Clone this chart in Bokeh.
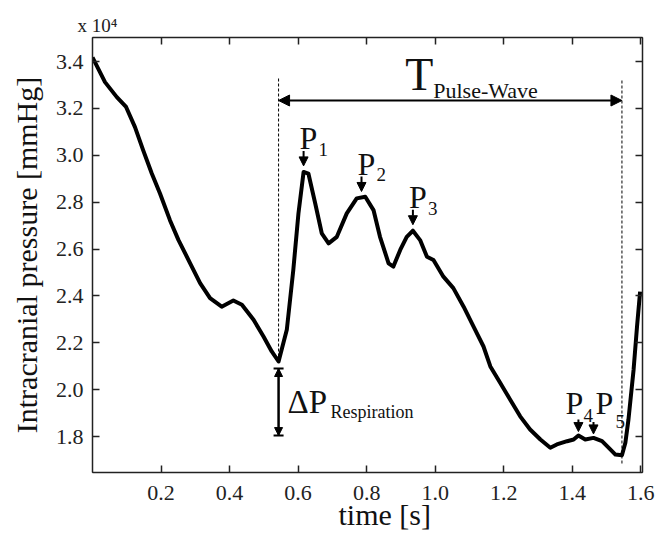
import numpy as np
from bokeh.plotting import figure
from bokeh.models import Range1d, FixedTicker, LinearAxis, Label, Arrow, NormalHead, TeeHead, Title
from bokeh.embed import file_html
from bokeh.resources import INLINE

# ---------------- data ----------------
time_s = [0.000, 0.0365, 0.071, 0.098, 0.124, 0.148, 0.173, 0.197, 0.226, 0.251,
          0.285, 0.314, 0.343, 0.377, 0.411, 0.436, 0.470, 0.499, 0.523, 0.543,
          0.567, 0.586, 0.601, 0.616, 0.630, 0.650, 0.669, 0.689, 0.713, 0.742,
          0.771, 0.796, 0.820, 0.839, 0.864, 0.878, 0.898, 0.917, 0.935, 0.956,
          0.976, 0.995, 1.024, 1.053, 1.083, 1.112, 1.141, 1.161, 1.190, 1.219,
          1.248, 1.277, 1.307, 1.336, 1.355, 1.385, 1.404, 1.418, 1.438, 1.462,
          1.487, 1.511, 1.526, 1.545, 1.555, 1.564, 1.579, 1.589, 1.598]
icp_mmhg = [34180, 33120, 32480, 32060, 31200, 30210, 29220, 28370, 27230, 26380,
            25390, 24540, 23900, 23540, 23800, 23620, 22980, 22270, 21630, 21200,
            22550, 25110, 27520, 29290, 29220, 27940, 26670, 26240, 26520, 27520,
            28160, 28230, 27660, 26520, 25390, 25250, 25960, 26520, 26780, 26380,
            25670, 25530, 24820, 24330, 23540, 22690, 21840, 20990, 20280, 19570,
            18860, 18300, 17870, 17520, 17660, 17800, 17870, 18040, 17870, 17940,
            17800, 17450, 17230, 17200, 17730, 18720, 20850, 22690, 24180]

x_ticks = [0.2, 0.4, 0.6, 0.8, 1.0, 1.2, 1.4, 1.6]
x_tick_labels = ["0.2", "0.4", "0.6", "0.8", "1.0", "1.2", "1.4", "1.6"]
y_ticks = [18000, 20000, 22000, 24000, 26000, 28000, 30000, 32000, 34000]
y_tick_labels = ["1.8", "2.0", "2.2", "2.4", "2.6", "2.8", "3.0", "3.2", "3.4"]

peak_names = ["1", "2", "3", "4", "5"]
peak_times = [0.616, 0.785, 0.935, 1.418, 1.462]
respiration_low = 18040

# ---------------- layout ----------------
FONT = "Liberation Serif"
X0, X1 = 0.0, 1.605
Y0, Y1 = 16464, 35024
FW, FH = 550, 435
LEFT, TOP = 92, 37          # frame origin in the page
K = 0.3                      # baseline compensation (fraction of font size)


def ypx(py):   # page pixel -> data y
    return Y1 - (py - TOP) * (Y1 - Y0) / FH


def ddy(n):    # n pixels in data units (y)
    return n * (Y1 - Y0) / FH


t = np.array(time_s)
v = np.array(icp_mmhg)

p = figure(frame_width=FW, frame_height=FH,
           x_range=Range1d(X0, X1), y_range=Range1d(Y0, Y1),
           output_backend="svg", toolbar_location=None,
           min_border_left=LEFT, min_border_top=TOP,
           min_border_right=20, min_border_bottom=62,
           background_fill_color="white", border_fill_color="white",
           outline_line_color="#222222", outline_line_width=1)
p.grid.visible = False

p.title.text = "x 10\u2074"
p.title.text_font = FONT
p.title.text_font_size = "19px"
p.title.text_font_style = "normal"
p.title.text_color = "#222222"
p.title.align = "left"
p.title.offset = -15
p.title.standoff = 3


def style(ax):
    ax.axis_line_color = "#222222"
    ax.axis_line_width = 1.5
    ax.major_tick_line_color = "#222222"
    ax.major_tick_line_width = 1.5
    ax.major_tick_in = 7
    ax.major_tick_out = 0
    ax.minor_tick_line_color = None
    ax.major_label_text_font = FONT
    ax.major_label_text_font_size = "22px"
    ax.major_label_text_color = "#222222"


xa = p.xaxis[0]
style(xa)
xa.ticker = FixedTicker(ticks=x_ticks)
xa.major_label_overrides = dict(zip(x_ticks, x_tick_labels))
xa.major_label_standoff = 13

p.add_layout(Title(text="time [s]", align="left", offset=246, standoff=-13,
                   text_font=FONT, text_font_size="30px", text_font_style="normal",
                   text_color="#111111"), "below")

ya = p.yaxis[0]
style(ya)
ya.ticker = FixedTicker(ticks=y_ticks)
ya.major_label_overrides = dict(zip(y_ticks, y_tick_labels))
ya.major_label_standoff = 9
ya.axis_label = "Intracranial pressure [mmHg]"
ya.axis_label_text_font = FONT
ya.axis_label_text_font_size = "30px"
ya.axis_label_text_font_style = "normal"
ya.axis_label_text_color = "#111111"
ya.axis_label_standoff = 10

top_ax = LinearAxis(ticker=FixedTicker(ticks=x_ticks))
style(top_ax)
top_ax.major_label_overrides = {k: "" for k in x_ticks}
top_ax.major_label_text_font_size = "1px"
top_ax.major_label_standoff = 0
p.add_layout(top_ax, "above")

right_ax = LinearAxis(ticker=FixedTicker(ticks=y_ticks))
style(right_ax)
right_ax.major_label_overrides = {k: "" for k in y_ticks}
right_ax.major_label_text_font_size = "1px"
right_ax.major_label_standoff = 0
p.add_layout(right_ax, "right")

# ---------------- curve ----------------
p.line(time_s, icp_mmhg, line_width=4, line_color="black", line_join="round")

# pulse boundaries = respiration minima
ia = int(np.argmin(np.where(t < 0.8, v, np.inf)))
ib = int(np.argmin(np.where(t > 1.3, v, np.inf)))
ta, tb = t[ia], t[ib]

p.segment(x0=[ta, tb], y0=[ypx(78), ypx(80)], x1=[ta, tb], y1=[v[ia], ypx(465)],
          line_color="black", line_width=1, line_dash="3 2")


def lab(x, y, text, size, xo, yo, align="left"):
    p.add_layout(Label(x=x, y=y, x_offset=xo, y_offset=yo + K * size, text=text,
                       text_font=FONT, text_font_size=f"{size}px",
                       text_color="#111111", text_baseline="alphabetic",
                       text_align=align))


def head(n):
    return NormalHead(size=n, fill_color="black", line_color="black")


# T pulse-wave double arrow
yT = ypx(100)
p.add_layout(Arrow(start=head(11), end=head(11),
                   x_start=ta, y_start=yT, x_end=tb, y_end=yT,
                   line_width=2, line_color="black"))
tm = (ta + tb) / 2
lab(tm, yT, "T", 46, -45, 12)
lab(tm, yT, "Pulse-Wave", 22, -17, 3)

# Delta P respiration
dp_top = v[ia] - ddy(7)
p.add_layout(Arrow(start=head(8), end=head(8),
                   x_start=ta, y_start=dp_top, x_end=ta, y_end=respiration_low,
                   line_width=2, line_color="black"))
p.add_layout(Arrow(start=TeeHead(size=10, line_color="black", line_width=2),
                   end=TeeHead(size=10, line_color="black", line_width=2),
                   x_start=ta, y_start=dp_top, x_end=ta, y_end=respiration_low,
                   line_width=2, line_color="black"))
lab(ta, v[ia], "\u0394P", 33, 9, -50)
lab(ta, v[ia], "Respiration", 18, 52, -56)

# peak labels
offs = {
    "1": (-4, 24, 15, 17, 21, 6),
    "2": (-4, 24, 15, 17, 21, 6),
    "3": (-4, 24, 15, 17, 21, 6),
    "4": (-13, 23, 5, 14, 16, 4),
    "5": (2, 25, 22, 11, 16, 4),
}
for name, pt in zip(peak_names, peak_times):
    pv = float(np.interp(pt, time_s, icp_mmhg))
    px_, py_, sx_, sy_, a0, a1 = offs[name]
    lab(pt, pv, "P", 32, px_, py_)
    lab(pt, pv, name, 19, sx_, sy_)
    p.add_layout(Arrow(end=head(9),
                       x_start=pt, y_start=pv + ddy(a0), x_end=pt, y_end=pv + ddy(a1),
                       line_width=2, line_color="black"))

open("out.html", "w").write(file_html(p, INLINE))
